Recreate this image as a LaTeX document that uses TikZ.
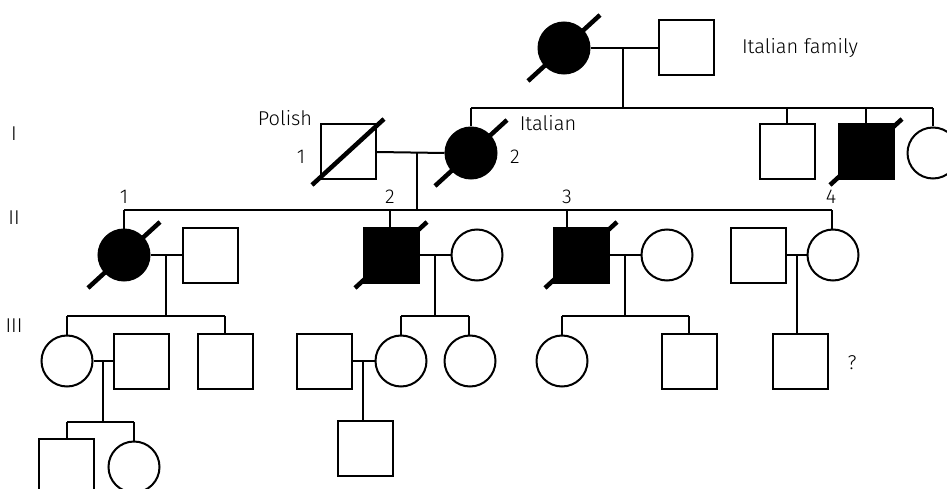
\documentclass[tikz,border=0pt]{standalone}
\usepackage{fontspec}
\setmainfont{Fira Sans}[UprightFont={* Light}]
\usetikzlibrary{calc}
\newcommand\dslash[1]{\draw[slashline] ($(#1)+(-36,33)$) -- ($(#1)+(36,-33)$);}
\begin{document}
\begin{tikzpicture}[x=1pt,y=-1pt,
  line width=2pt,
  male/.style={draw,rectangle,minimum size=55pt,inner sep=0pt,line width=2pt},
  female/.style={draw,circle,minimum size=51pt,inner sep=0pt,line width=2pt},
  aff/.style={fill=black},
  slashline/.style={line width=4.5pt},
  lbl/.style={font=\fontsize{20}{24}\selectfont,inner sep=0pt}]
\useasboundingbox (0,0) rectangle (947,489);
% generation labels
\node[lbl] (gI) at (14,134) {I};
\node[lbl] (gII) at (14,218) {II};
\node[lbl] (gIII) at (14,326) {III};
% top couple
\node[female,aff] (gA) at (564,48) {};
\node[male] (gB) at (686,48) {};
\node[lbl,anchor=west] (itfam) at (741,48) {Italian family};
\draw (gA.east) -- (gB.west);
\coordinate (mA) at (623,48);
\coordinate (sA) at (623,108);
\draw (mA) -- (sA);
% gen I children of top couple
\node[female,aff] (ital) at (471,153) {};
\node[male] (u1) at (787,152) {};
\node[male,aff] (u2) at (866,152) {};
\node[female] (u3) at (933,153) {};
\coordinate (sAl) at (471,108);
\coordinate (sAr) at (933,108);
\draw (sAl) -- (sAr);
\draw (sAl) -- (ital.north);
\draw (787,108) -- (u1.north);
\draw (866,108) -- (u2.north);
\draw (sAr) -- (u3.north);
% Polish
\node[male] (pol) at (348,152) {};
\node[lbl] (polt) at (285,118) {Polish};
\node[lbl] (pol1) at (301,157) {1};
\node[lbl] (ital2) at (515,157) {2};
\node[lbl] (italt) at (548,123) {Italian};
\draw (pol.east) -- (ital.west);
\coordinate (mP) at (417,153);
\coordinate (sP) at (417,210);
\draw (mP) -- (sP);
% gen II sibship
\coordinate (sPl) at (124,210);
\coordinate (sPr) at (832,210);
\draw (sPl) -- (sPr);
\node[lbl] (n1) at (124,197) {1};
\node[lbl] (n2) at (390,197) {2};
\node[lbl] (n3) at (567,197) {3};
\node[lbl] (n4) at (831,197) {4};
% II-1
\node[female,aff] (c1) at (124,255) {};
\node[male] (s1) at (210,255) {};
\draw (sPl) -- (c1.north);
\draw (c1.east) -- (s1.west);
\draw (166,255) -- (166,316);
\draw (67,316) -- (225,316);
\node[female] (d1) at (67,361) {};
\node[male] (e1) at (141,361) {};
\node[male] (d2) at (225,361) {};
\draw (67,316) -- (d1.north);
\draw (225,316) -- (d2.north);
\draw (d1.east) -- (e1.west);
\draw (103,361) -- (103,422);
\draw (67,422) -- (134,422);
\node[male] (f1) at (66,466) {};
\node[female] (f2) at (134,467) {};
\draw (67,422) -- (67,439);
\draw (134,422) -- (f2.north);
% II-2
\node[male,aff] (c2) at (391,255) {};
\node[female] (s2) at (477,255) {};
\draw (390,210) -- (390,227.5);
\draw (c2.east) -- (s2.west);
\draw (435,255) -- (435,316);
\draw (401,316) -- (469,316);
\node[female] (d3) at (401,361) {};
\node[female] (d4) at (470,361) {};
\node[male] (e3) at (324,361) {};
\draw (401,316) -- (d3.north);
\draw (469,316) -- (469,335.5);
\draw (e3.east) -- (d3.west);
\node[male] (g1) at (365,448) {};
\draw (363,361) -- (363,420.5);
% II-3
\node[male,aff] (c3) at (581,255) {};
\node[female] (s3) at (667,255) {};
\draw (567,210) -- (567,227.5);
\draw (c3.east) -- (s3.west);
\draw (625,255) -- (625,316);
\draw (562,316) -- (689,316);
\node[female] (d5) at (562,361) {};
\node[male] (d6) at (689,361) {};
\draw (562,316) -- (d5.north);
\draw (689,316) -- (d6.north);
% II-4
\node[female] (c4) at (833,255) {};
\node[male] (s4) at (758,255) {};
\draw (sPr) -- (832,229.5);
\draw (s4.east) -- (c4.west);
\node[male] (d7) at (800,361) {};
\draw (797,255) -- (797,333.5);
\node[lbl] (q) at (852,363) {?};
% deceased slashes
\dslash{gA}
\dslash{ital}
\dslash{pol}
\dslash{u2}
\dslash{c1}
\dslash{c2}
\dslash{c3}
\end{tikzpicture}
\end{document}
